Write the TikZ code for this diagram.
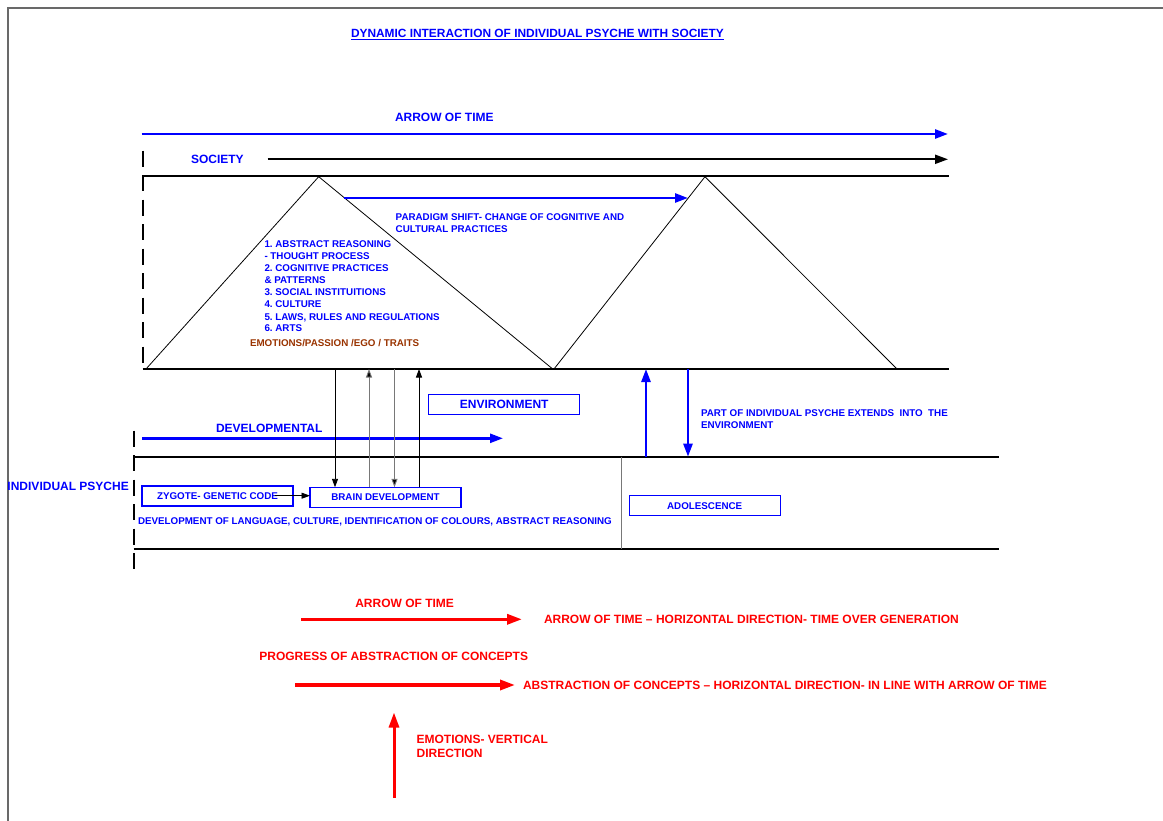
\documentclass[tikz,border=0pt]{standalone}
\usepackage{fontspec}
\setmainfont{Liberation Sans}
\usetikzlibrary{arrows.meta}
\definecolor{psyblue}{RGB}{0,0,255}
\definecolor{psyred}{RGB}{255,0,0}
\definecolor{psybrown}{RGB}{153,51,0}
\definecolor{pageframe}{RGB}{105,105,105}
\definecolor{midgray}{RGB}{120,120,120}
\frenchspacing

\begin{document}
\begin{tikzpicture}[x=1pt,y=-1pt,
  every node/.style={inner sep=0pt,outer sep=0pt},
  big/.style={font=\fontsize{12}{14}\selectfont\bfseries,text height=8.6pt,text depth=0pt},
  small/.style={font=\fontsize{9.8}{12}\selectfont\bfseries,text height=7pt,text depth=0pt},
  blabel/.style={big,text=psyblue,anchor=base west},
  slabel/.style={small,text=psyblue,anchor=base west},
  rlabel/.style={big,text=psyred,anchor=base west},
  stagebox/.style={small,text=psyblue,draw=psyblue,line width=1.3pt,fill=white,
    minimum width=151pt,minimum height=20pt,anchor=center},
  band/.style={line width=2pt,black},
  bandside/.style={line width=2pt,black,dash pattern=on 16pt off 8.5pt},
  ridge/.style={line width=0.8pt,black,line join=miter},
  bluearrow/.style={line width=2.5pt,psyblue,-{Triangle[length=13pt,width=9pt]}},
  blackarrow/.style={line width=2pt,black,-{Triangle[length=13pt,width=9pt]}},
  vbluearrow/.style={line width=2.5pt,psyblue,-{Triangle[length=13pt,width=9pt]}},
  linkarrow/.style={line width=0.9pt,-{Triangle[length=8.5pt,width=6pt]}},
  redarrow/.style={line width=3.3pt,psyred,-{Triangle[length=15pt,width=10pt]}}
]
\useasboundingbox (0,0) rectangle (1163,821);

% page frame
\draw[pageframe,line width=1.5pt] (8,821) -- (8,8) -- (1163,8);

% title, underlined
\node[font=\fontsize{11.9}{14}\selectfont\bfseries,text=psyblue,anchor=base west] (title) at (351,37.3)
  {DYNAMIC INTERACTION OF INDIVIDUAL PSYCHE WITH SOCIETY};
\draw[psyblue,line width=1.4pt] ([yshift=-2.4pt]title.base west) -- ([yshift=-2.4pt]title.base east);

% arrow of time (society scale)
\node[blabel] (aotlabel) at (395,122) {ARROW OF TIME};
\coordinate (aotS) at (141.7,134);
\coordinate (aotE) at (948,134);
\draw[bluearrow] (aotS) -- (aotE);

% society band
\node[blabel] (society) at (191,163.3) {SOCIETY};
\coordinate (socS) at (267.7,159.3);
\coordinate (socE) at (948,159.3);
\draw[blackarrow] (socS) -- (socE);

\coordinate (socTL) at (142.5,176);
\coordinate (socTR) at (949,176);
\coordinate (socBL) at (142.5,369);
\coordinate (socBR) at (949,369);
\draw[band] (socTL) -- (socTR);
\draw[band] (socBL) -- (socBR);
\draw[bandside] (142.5,150.7) -- (socBL);

% paradigm peaks
\coordinate (p1L) at (146,369);
\coordinate (p1T) at (318.7,176.7);
\coordinate (p1R) at (552.7,369);
\coordinate (p2L) at (554,369);
\coordinate (p2T) at (705,176.7);
\coordinate (p2R) at (897,369);
\draw[ridge] (p1L) -- (p1T) -- (p1R);
\draw[ridge] (p2L) -- (p2T) -- (p2R);

\coordinate (shiftS) at (344,198);
\coordinate (shiftE) at (688,198);
\draw[bluearrow] (shiftS) -- (shiftE);
\node[slabel] (shift1) at (395.7,221) {PARADIGM SHIFT- CHANGE OF COGNITIVE AND};
\node[slabel] (shift2) at (395.7,233) {CULTURAL PRACTICES};

% contents of the society
\node[slabel] (item1)  at (264.5,248) {1. ABSTRACT REASONING};
\node[slabel] (item1b) at (264.5,260) {- THOUGHT PROCESS};
\node[slabel] (item2)  at (264.5,272) {2. COGNITIVE PRACTICES};
\node[slabel] (item2b) at (264.5,284) {\&\ PATTERNS};
\node[slabel] (item3)  at (264.5,296) {3. SOCIAL INSTITUITIONS};
\node[slabel] (item4)  at (264.5,308) {4. CULTURE};
\node[slabel] (item5)  at (264.5,320) {5. LAWS, RULES AND REGULATIONS};
\node[slabel] (item6)  at (264.5,332) {6. ARTS};
\node[small,text=psybrown,anchor=base west] (emotions) at (250,346) {EMOTIONS/PASSION /EGO / TRAITS};

% environment
\node[stagebox,minimum height=20pt,big] (env) at (504.2,404.3) {ENVIRONMENT};

\node[blabel] (devlabel) at (216,432) {DEVELOPMENTAL};
\coordinate (devS) at (142,438.3);
\coordinate (devE) at (503,438.3);
\draw[bluearrow] (devS) -- (devE);

% individual psyche band
\node[blabel] (psyche) at (7.5,490) {INDIVIDUAL PSYCHE};
\coordinate (indTL) at (133.5,456.7);
\coordinate (indTR) at (999,456.7);
\coordinate (indBL) at (133.5,549);
\coordinate (indBR) at (999,549);
\draw[band] (indTL) -- (indTR);
\draw[band] (indBL) -- (indBR);
\draw[bandside] (133.5,430.7) -- (133.5,575);
\coordinate (divT) at (621,456.7);
\coordinate (divB) at (621,549);
\draw[midgray,line width=1pt] (divT) -- (divB);

\node[stagebox] (zygote) at (217.5,496) {ZYGOTE- GENETIC CODE};
\node[stagebox] (brain) at (385.5,497.3) {BRAIN DEVELOPMENT};
\node[stagebox] (adol) at (704.7,505.7) {ADOLESCENCE};
\node[slabel] (devtext) at (138,524)
  {DEVELOPMENT OF LANGUAGE, CULTURE, IDENTIFICATION OF COLOURS, ABSTRACT REASONING};

\coordinate (zygS) at (275,495.7);
\draw[linkarrow,black] (zygS) -- (brain.west |- zygS);

% exchanges between society and brain development
\coordinate (x1) at (335,369);
\coordinate (x2) at (369,369);
\coordinate (x3) at (394.5,369);
\coordinate (x4) at (419,369);
\draw[linkarrow,black] (x1) -- (x1 |- brain.north);
\draw[linkarrow,midgray,-{Triangle[length=8.5pt,width=6pt,fill=black]}] (x2 |- brain.north) -- (x2);
\draw[linkarrow,midgray,-{Triangle[length=8.5pt,width=6pt,fill=black]}] (x3) -- (x3 |- brain.north);
\draw[linkarrow,black] (x4 |- brain.north) -- (x4);

% extension of the psyche into the environment
\coordinate (upB) at (646,456.7);
\coordinate (upT) at (646,369);
\coordinate (dnT) at (688,369);
\coordinate (dnB) at (688,456.7);
\draw[vbluearrow] (upB) -- (upT);
\draw[vbluearrow] (dnT) -- (dnB);
\node[slabel] (ext1) at (701,416) {PART OF INDIVIDUAL PSYCHE EXTENDS\ \ INTO\ \ THE};
\node[slabel] (ext2) at (701,428) {ENVIRONMENT};

% legend
\node[rlabel] (raot) at (355.3,607.5) {ARROW OF TIME};
\coordinate (r1S) at (301,619.3);
\coordinate (r1E) at (522,619.3);
\draw[redarrow] (r1S) -- (r1E);
\node[rlabel] (r1text) at (544,623.3) {ARROW OF TIME -- HORIZONTAL DIRECTION- TIME OVER GENERATION};

\node[rlabel] (progress) at (259.4,660) {PROGRESS OF ABSTRACTION OF CONCEPTS};
\coordinate (r2S) at (295,685);
\coordinate (r2E) at (515,685);
\draw[redarrow] (r2S) -- (r2E);
\node[rlabel] (r2text) at (523,689.3)
  {ABSTRACTION OF CONCEPTS -- HORIZONTAL DIRECTION- IN LINE WITH ARROW OF TIME};

\coordinate (r3B) at (394,798);
\coordinate (r3T) at (394,712.5);
\draw[redarrow,line width=3pt] (r3B) -- (r3T);
\node[rlabel] (r3a) at (416.6,743.3) {EMOTIONS- VERTICAL};
\node[rlabel] (r3b) at (416.6,757.3) {DIRECTION};
\end{tikzpicture}
\end{document}
